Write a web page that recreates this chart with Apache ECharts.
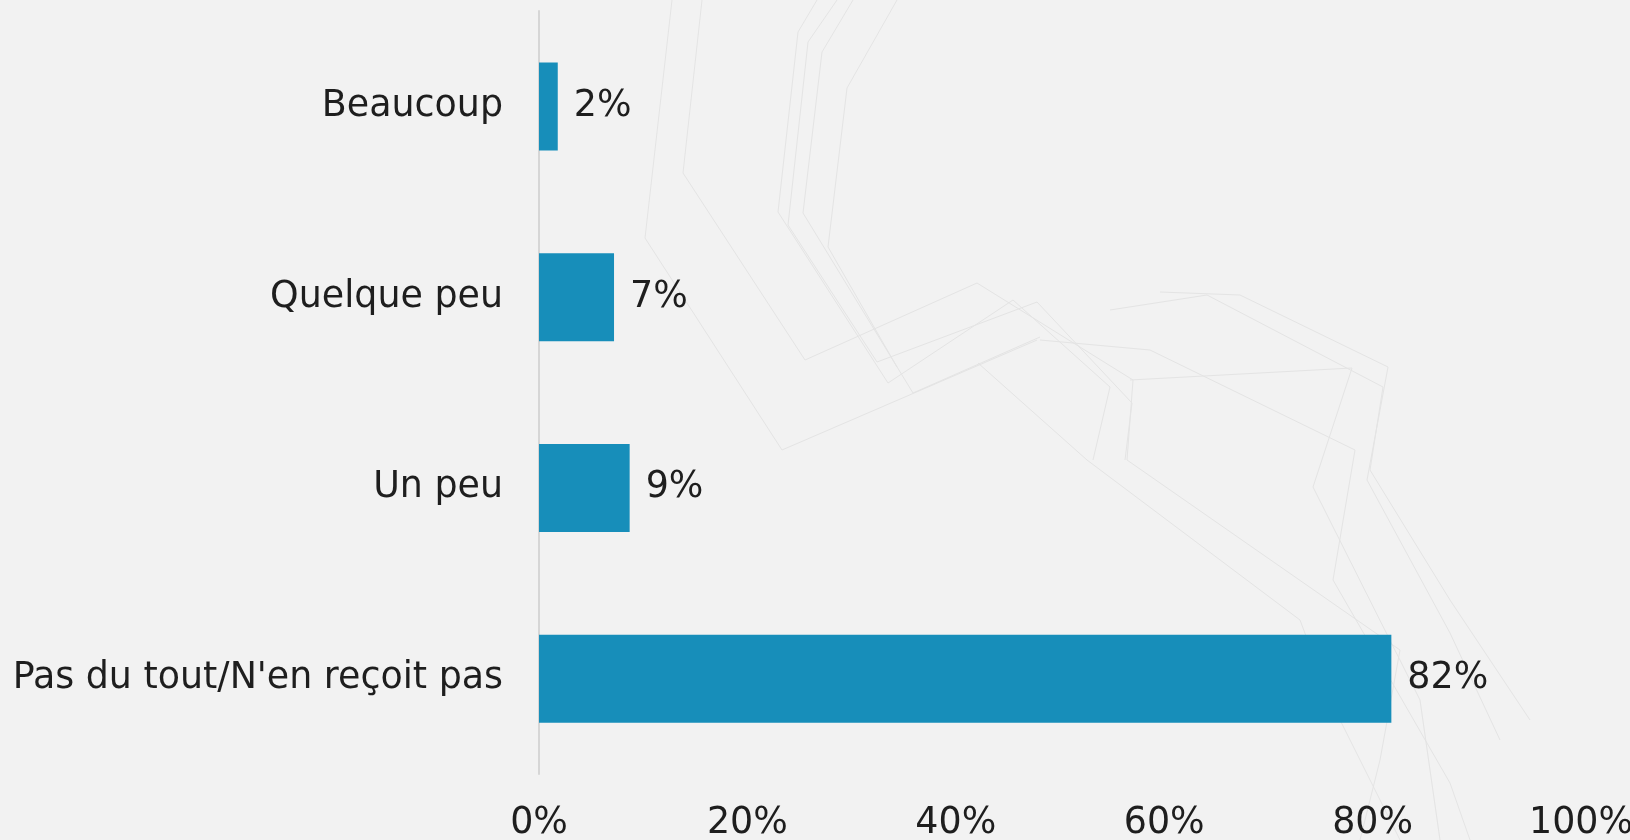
<!DOCTYPE html>
<html>
<head>
<meta charset="utf-8">
<script src="https://cdn.jsdelivr.net/npm/echarts@6/dist/echarts.min.js"></script>
<style>
  html, body { margin: 0; padding: 0; background: #f2f2f2; }
  #chart { width: 1630px; height: 840px; }
</style>
</head>
<body>
<div id="chart"></div>
<script>
const categories = ['Beaucoup', 'Quelque peu', 'Un peu', "Pas du tout/N'en reçoit pas"];
const values = [1.8, 7.2, 8.7, 81.8];
const valueLabels = ['2%', '7%', '9%', '82%'];
const xTicks = [0, 20, 40, 60, 80, 100];

const FONT = 'DejaVu Sans';
const TEXT = '#1e1e1e';

// pick a font size so the longest label is as wide as in the reference (~490px)
const cv = document.createElement('canvas').getContext('2d');
cv.font = '36px "' + FONT + '"';
const w36 = cv.measureText(categories[3]).width;
const FS = Math.max(28, Math.min(38, Math.round(36 * 490 / w36 * 10) / 10));

// faint decorative background lines (pure decoration, not data)
const deco = [
  [[672,0],[645,238],[782,450],[1037,340]],
  [[702,0],[683,173],[805,360],[977,283],[1133,380],[1127,460]],
  [[817,0],[798,32],[778,212],[888,383],[1013,300],[1110,387],[1093,460]],
  [[837,0],[808,42],[788,225],[877,362],[1037,302],[1132,403],[1125,460]],
  [[853,0],[822,52],[803,213],[913,393],[1040,337]],
  [[897,0],[847,88],[828,247],[897,367]],
  [[978,363],[1087,460]],
  [[1160,292],[1240,295],[1388,367],[1367,480],[1450,633],[1500,740]],
  [[1110,310],[1207,295],[1383,387],[1370,470],[1450,600],[1530,720]],
  [[1040,340],[1150,350],[1355,450],[1333,580],[1450,783],[1470,840]],
  [[1130,380],[1352,368],[1313,487],[1420,700],[1440,840]],
  [[1087,460],[1300,620],[1330,700],[1400,840]],
  [[1127,460],[1400,650],[1380,760],[1360,840]]
];

const chart = echarts.init(document.getElementById('chart'), null, { renderer: 'canvas' });
chart.setOption({
  backgroundColor: '#f2f2f2',
  animation: false,
  graphic: deco.map(pts => ({
    type: 'polyline',
    silent: true,
    z: -10,
    shape: { points: pts },
    style: { stroke: '#e4e4e4', lineWidth: 1, fill: null }
  })),
  grid: {
    left: 539,
    right: 49,
    top: 11,
    bottom: 66,
    outerBoundsMode: 'none'
  },
  xAxis: {
    type: 'value',
    min: xTicks[0],
    max: xTicks[xTicks.length - 1],
    interval: xTicks[1] - xTicks[0],
    axisLine: { show: false },
    axisTick: { show: false },
    splitLine: { show: false },
    axisLabel: {
      formatter: '{value}%',
      fontFamily: FONT,
      fontSize: FS,
      color: TEXT,
      margin: 32
    }
  },
  yAxis: {
    type: 'category',
    inverse: true,
    data: categories,
    axisLine: { show: true, lineStyle: { color: '#d6d6d6', width: 2 } },
    axisTick: { show: false },
    axisLabel: {
      fontFamily: FONT,
      fontSize: FS,
      color: TEXT,
      margin: 36
    }
  },
  series: [{
    type: 'bar',
    data: values,
    barWidth: 88,
    itemStyle: { color: '#178eba' },
    label: {
      show: true,
      position: 'right',
      distance: 16,
      fontFamily: FONT,
      fontSize: FS,
      color: TEXT,
      formatter: p => valueLabels[p.dataIndex]
    }
  }]
});
</script>
</body>
</html>
